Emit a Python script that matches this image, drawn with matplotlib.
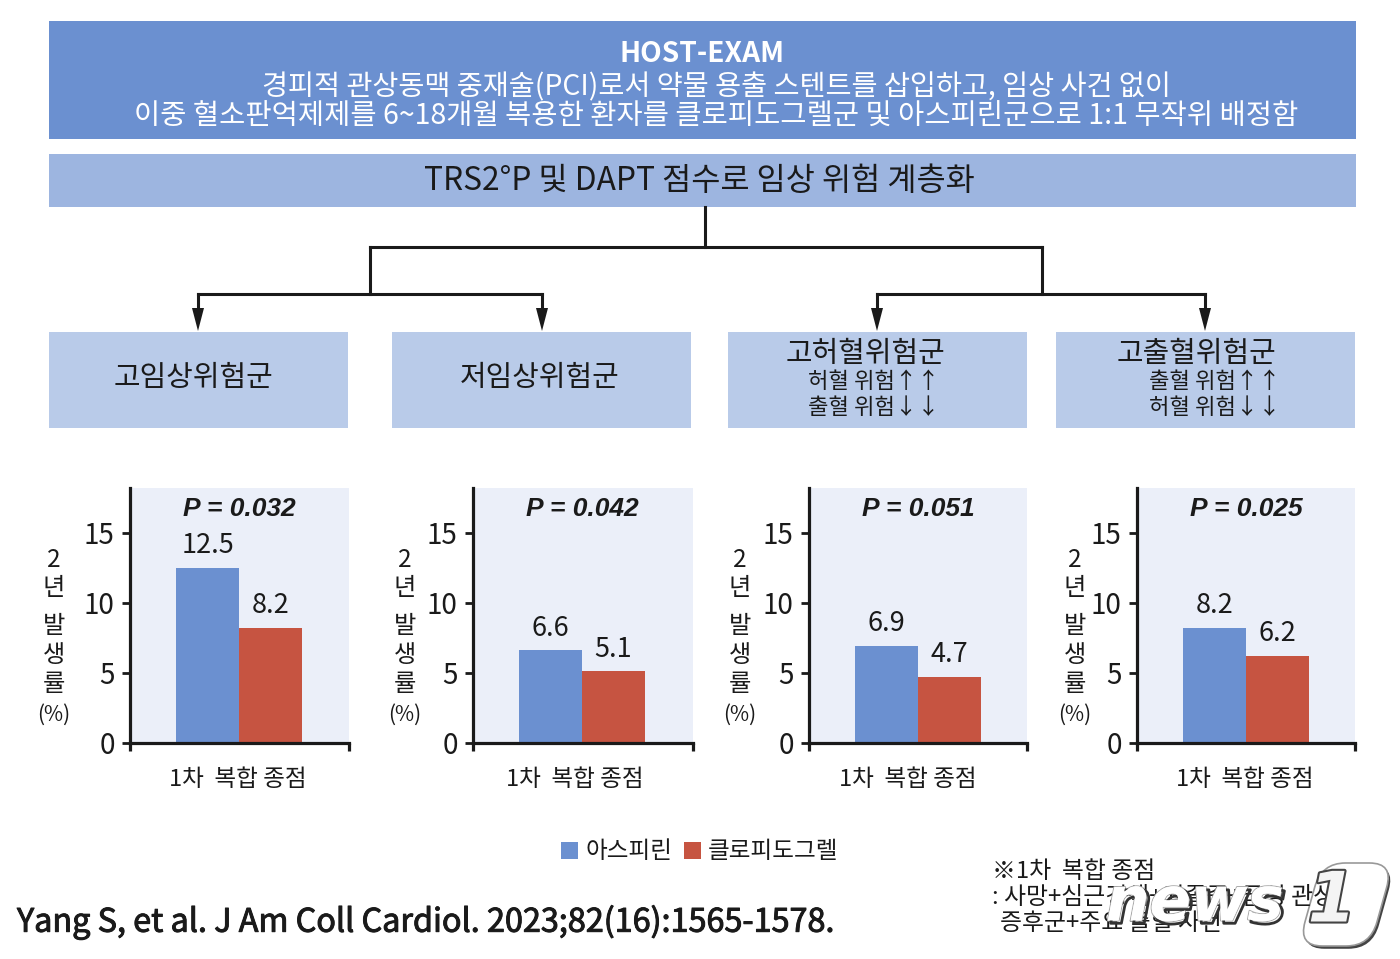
import matplotlib
matplotlib.use("Agg")
import matplotlib.pyplot as plt
import matplotlib.patheffects as pe
from matplotlib.patches import Rectangle, FancyBboxPatch, Polygon
from matplotlib.transforms import Affine2D

plt.rcParams['font.family'] = ['Noto Sans CJK KR', 'DejaVu Sans']

# data
drugs = ["아스피린", "클로피도그렐"]
aspirin = [12.5, 6.6, 6.9, 8.2]
clopidogrel = [8.2, 5.1, 4.7, 6.2]
p_values = ["P = 0.032", "P = 0.042", "P = 0.051", "P = 0.025"]
y_ticks = [0, 5, 10, 15]
x_label = "1차  복합 종점"
y_label_parts = ["2", "년", "발", "생", "률", "(%)"]

BLUE = "#6b90d0"
RED = "#c65441"
DARK = "#1a1a1a"
W, H = 1400, 959

fig = plt.figure(figsize=(14, 9.59), dpi=100, facecolor="white")

# overlay in pixel coords for the flow part
bg = fig.add_axes([0, 0, 1, 1], zorder=3)
bg.set_xlim(0, W)
bg.set_ylim(H, 0)
bg.axis("off")


def box(x0, y0, x1, y1, color):
    bg.add_patch(Rectangle((x0, y0), x1 - x0, y1 - y0, facecolor=color, edgecolor="none"))


# === header boxes ===
box(49, 21, 1356, 139, "#6b90d0")
box(49, 154, 1356, 207, "#9db5e0")
bg.text(702, 54, "HOST-EXAM", color="white", fontsize=20.2, fontweight="bold", ha="center", va="center")
bg.text(716, 87, "경피적 관상동맥 중재술(PCI)로서 약물 용출 스텐트를 삽입하고, 임상 사건 없이",
        color="white", fontsize=20.4, ha="center", va="center")
bg.text(716, 117, "이중 혈소판억제제를 6~18개월 복용한 환자를 클로피도그렐군 및 아스피린군으로 1:1 무작위 배정함",
        color="white", fontsize=20.5, ha="center", va="center")
bg.text(699, 181, "TRS2°P 및 DAPT 점수로 임상 위험 계층화", color=DARK, fontsize=22.8, ha="center", va="center")

# === connector lines ===
lines = [
    ([705, 705], [207, 247]),
    ([370, 1042], [247, 247]),
    ([370, 370], [247, 294]),
    ([1042, 1042], [247, 294]),
    ([198, 542], [294, 294]),
    ([877, 1205], [294, 294]),
]
for xs, ys in lines:
    bg.plot(xs, ys, color=DARK, lw=2.2, solid_capstyle="projecting")
for x in [198, 542, 877, 1205]:
    bg.plot([x, x], [294, 312], color=DARK, lw=2.2)
    bg.add_patch(Polygon([(x - 6, 308), (x + 6, 308), (x, 331)], facecolor=DARK, edgecolor="none"))

# === group boxes ===
group_boxes = [(49, 348), (392, 691), (728, 1027), (1056, 1355)]
for x0, x1 in group_boxes:
    box(x0, 332, x1, 428, "#b9cbe9")
bg.text(193, 378, "고임상위험군", color=DARK, fontsize=20.8, ha="center", va="center")
bg.text(540, 378, "저임상위험군", color=DARK, fontsize=20.8, ha="center", va="center")
bg.text(865, 354, "고허혈위험군", color=DARK, fontsize=20.8, ha="center", va="center")
bg.text(1196, 354, "고출혈위험군", color=DARK, fontsize=20.8, ha="center", va="center")
bg.text(874, 382, "허혈 위험↑↑", color=DARK, fontsize=16, ha="center", va="center")
bg.text(874, 407, "출혈 위험↓↓", color=DARK, fontsize=16, ha="center", va="center")
bg.text(1215, 382, "출혈 위험↑↑", color=DARK, fontsize=16, ha="center", va="center")
bg.text(1215, 407, "허혈 위험↓↓", color=DARK, fontsize=16, ha="center", va="center")

# === bar panels ===
panel_left = [130, 473, 809, 1137]
panel_right = [349, 693, 1027, 1355]
bar_first = [176, 519, 855, 1183]
ylab_x = [54, 405, 740, 1075]
xlab_x = [237.5, 574.5, 907.5, 1244.5]
top_px, zero_px = 488, 743
px_per_unit = 14.03
bar_px = 63

handles = None
for i in range(4):
    l, r = panel_left[i], panel_right[i]
    ax = fig.add_axes([l / W, 1 - zero_px / H, (r - l) / W, (zero_px - top_px) / H], zorder=2)
    ax.set_facecolor("#ebeff9")
    c0 = bar_first[i] + bar_px / 2
    ax.set_xlim((l - c0) / bar_px, (r - c0) / bar_px)
    ax.set_ylim(0, (zero_px - top_px) / px_per_unit)
    b = ax.bar([0, 1], [aspirin[i], clopidogrel[i]], width=1, color=[BLUE, RED])
    handles = b.patches
    for x, v in zip([0, 1], [aspirin[i], clopidogrel[i]]):
        ax.annotate(f"{v}", (x, v), xytext=(0, 16), textcoords="offset points",
                    ha="center", va="center", fontsize=19.5, color=DARK)
    ax.spines["top"].set_visible(False)
    ax.spines["right"].set_visible(False)
    ax.spines["left"].set_linewidth(2.3)
    ax.spines["bottom"].set_linewidth(2.3)
    ax.spines["left"].set_color(DARK)
    ax.spines["bottom"].set_color(DARK)
    ax.set_yticks(y_ticks)
    ax.tick_params(axis="y", length=6, width=2, labelsize=20, colors=DARK, pad=5)
    ax.set_xticks(ax.get_xlim())
    ax.set_xticklabels([])
    ax.tick_params(axis="x", length=6, width=2.3, colors=DARK)
    bg.text(bar_first[i] + bar_px, 509, p_values[i], family="Liberation Sans", style="italic",
            fontweight="bold", fontsize=19, color=DARK, ha="center", va="center")
    bg.text(xlab_x[i], 779, x_label, fontsize=17, color=DARK, ha="center", va="center")
    for part, y in zip(y_label_parts, [560, 588, 626, 655, 684, 715]):
        bg.text(ylab_x[i], y, part, fontsize=17.5 if part != "(%)" else 15, color=DARK, ha="center", va="center")

# === legend ===
fig.legend(handles, drugs, loc="center left", bbox_to_anchor=(540 / W, 1 - 852 / H), ncol=2, frameon=False,
           fontsize=17, handlelength=0.72, handleheight=0.72, handletextpad=0.3, columnspacing=0.5,
           labelcolor=DARK)

# === source and footnote ===
bg.text(17, 922, "Yang S, et al. J Am Coll Cardiol. 2023;82(16):1565-1578.", color=DARK, fontsize=23.3,
        ha="left", va="center", path_effects=[pe.withStroke(linewidth=0.7, foreground=DARK)])
bg.text(992, 871, "※1차  복합 종점", color=DARK, fontsize=17.2, ha="left", va="center")
bg.text(992, 897, ": 사망+심근경색+뇌졸중+급성 관상", color=DARK, fontsize=17.2, ha="left", va="center")
bg.text(1000, 923, "증후군+주요 출혈 사건", color=DARK, fontsize=17.2, ha="left", va="center")

# === news1 watermark ===
yc = 904
k = 0.28
skew = Affine2D.from_values(1, 0, -k, 1, k * yc, 0)
bg.add_patch(FancyBboxPatch((1310, 863), 72, 83, boxstyle="round,pad=0,rounding_size=24",
                            facecolor="white", edgecolor="#999999", lw=1.2, transform=skew + bg.transData,
                            clip_on=False,
                            path_effects=[pe.withSimplePatchShadow(offset=(1.5, -2), shadow_rgbFace="#444444", alpha=1)]))
stroke = [pe.withStroke(linewidth=1.5, foreground="#aaaaaa"),
          pe.SimpleLineShadow(offset=(2, -2), shadow_color="#333333", alpha=1, linewidth=2), pe.Normal()]
bg.text(1106, 904, "news", family="DejaVu Sans", style="oblique", fontweight="bold", fontsize=44, color="white",
        ha="left", va="center", path_effects=stroke)
bg.text(1332, 902, "1", family="DejaVu Sans", style="oblique", fontweight="bold", fontsize=50, color="#f4f4f4",
        ha="center", va="center", path_effects=[pe.withStroke(linewidth=3, foreground="#444444")])

fig.savefig("out.png", dpi=100)
